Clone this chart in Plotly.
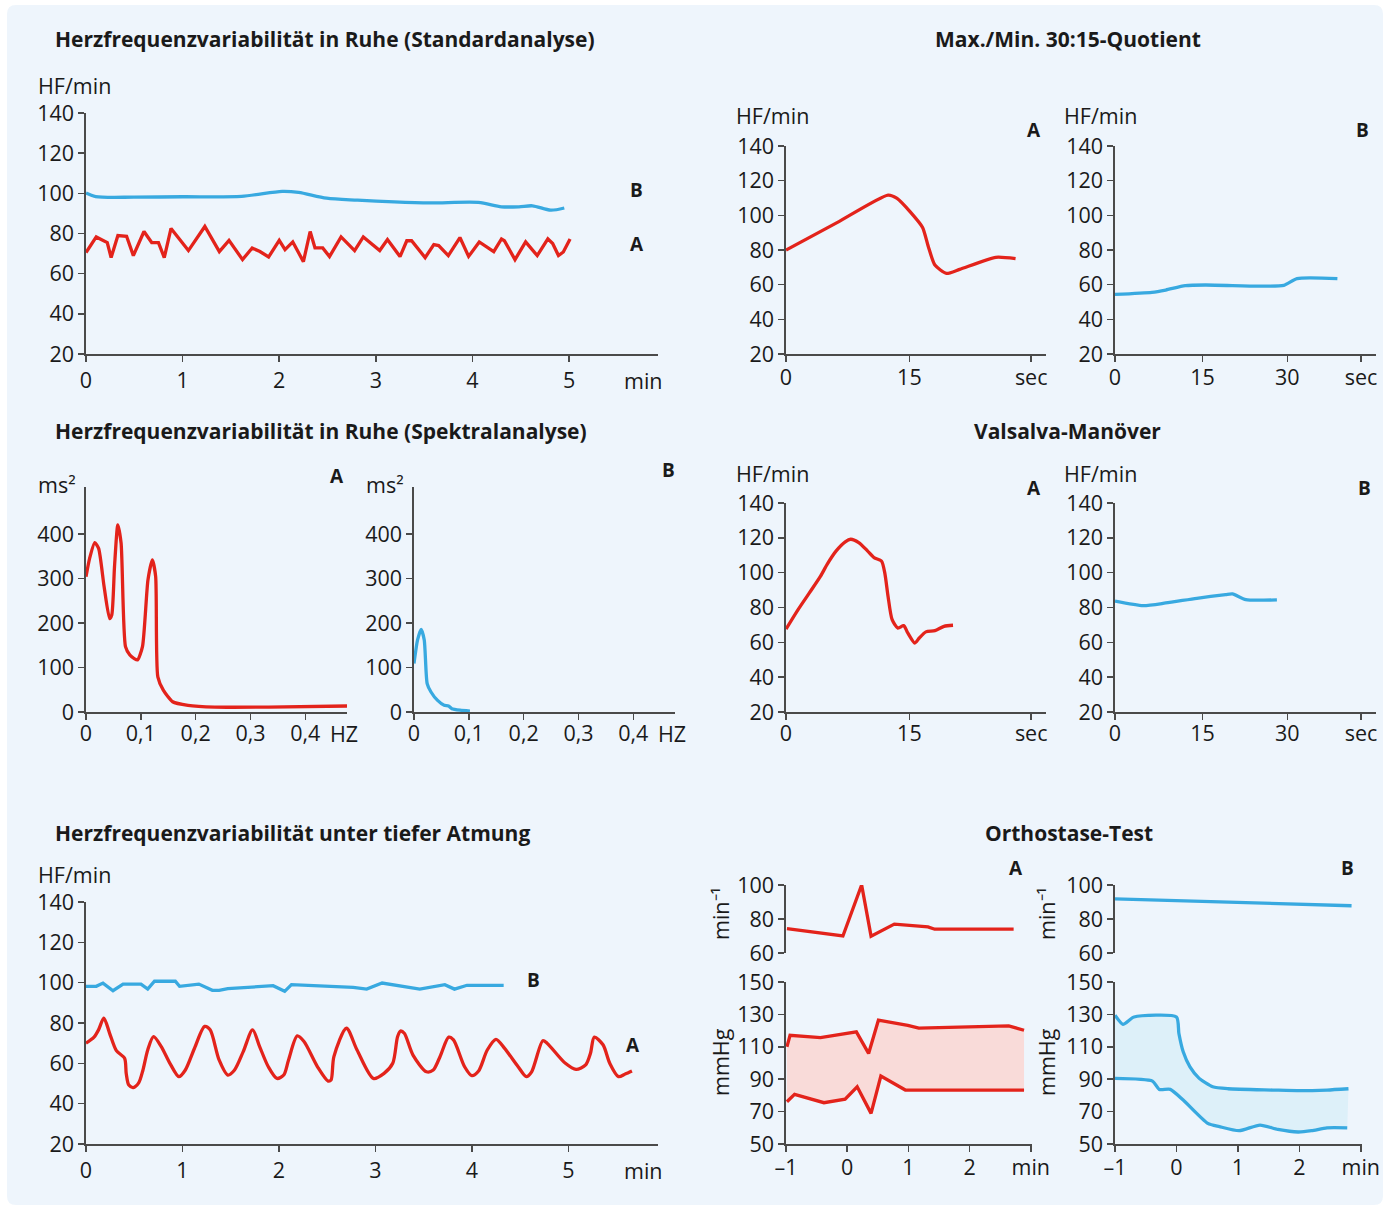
import plotly.graph_objects as go

W, H = 1389, 1207
RED = "#e3231b"
BLUE = "#38a9e0"
PINK = "#f9dbd9"
LBLUE = "#ddf0f9"
AX = "#4a4a4a"
TXT = "#1a1a1a"
BG = "#eef5fc"
FONT = "Open Sans"
TFONT = "Open Sans"

# ---------------- data ----------------
# Herzfrequenzvariabilität in Ruhe (Standardanalyse)
std_t_A = [0, 0.106, 0.22, 0.26, 0.33, 0.42, 0.49, 0.6, 0.68, 0.75, 0.81, 0.88, 1.06, 1.23, 1.38, 1.48,
           1.62, 1.72, 1.8, 1.89, 2.0, 2.06, 2.14, 2.25, 2.32, 2.37, 2.45, 2.52, 2.64, 2.78, 2.87, 3.04,
           3.12, 3.25, 3.32, 3.37, 3.51, 3.6, 3.65, 3.75, 3.87, 3.96, 4.07, 4.22, 4.3, 4.33, 4.44, 4.55,
           4.67, 4.78, 4.83, 4.89, 4.94, 5.01]
std_hf_A = [70.5, 78.3, 75.5, 68, 79, 78.6, 69, 81, 75.5, 75.5, 68, 82.5, 71.5, 83.5, 71, 76.6,
            67, 72.8, 71, 68.3, 76.6, 72, 75.8, 66, 81, 72.8, 72.8, 68.5, 78.3, 71.5, 78.3, 71.5,
            77, 68.5, 76.4, 76.4, 68, 74.5, 74, 69, 78, 68.6, 75.8, 71, 77.3, 76.4, 67, 75.8,
            69, 77.3, 75, 69, 70.8, 77.3]
std_t_B = [0, 0.1, 0.5, 1.0, 1.61, 2.03, 2.2, 2.49, 2.81, 3.19, 3.56, 4.06, 4.3, 4.48, 4.62, 4.81, 4.95]
std_hf_B = [100.2, 98.4, 98.1, 98.3, 98.5, 101, 100.5, 97.6, 96.6, 95.7, 95.2, 95.5, 93.3, 93.3, 93.8, 91.6, 92.7]

# Max./Min. 30:15-Quotient
q_t_A = [0, 6.2, 12.4, 13.5, 15.1, 16.6, 17.3, 18.1, 19.5, 21.1, 25.5, 27.9]
q_hf_A = [80, 95.8, 111.7, 109.8, 102, 93, 81.9, 71.3, 66.5, 68.8, 75.8, 75]
q_t_B = [0, 6.4, 8.8, 12.2, 15.7, 25, 29.3, 31.6, 38.6]
q_hf_B = [54.4, 55.6, 56.9, 59.4, 59.8, 59.2, 59.6, 63.5, 63.5]

# Herzfrequenzvariabilität in Ruhe (Spektralanalyse)
spec_f_A = [0, 0.0065, 0.016, 0.023, 0.033, 0.043, 0.047, 0.052, 0.058, 0.064, 0.072, 0.080, 0.088,
            0.094, 0.103, 0.113, 0.121, 0.127, 0.131, 0.141, 0.158, 0.186, 0.235, 0.333, 0.476]
spec_p_A = [304, 345, 381, 368, 282, 210, 218, 327, 421, 380, 147, 128, 120,
            117, 147, 297, 342, 305, 79, 49, 23, 15, 11, 11, 13.5]
spec_f_B = [0, 0.0065, 0.013, 0.0187, 0.024, 0.031, 0.043, 0.055, 0.063, 0.069, 0.084, 0.102]
spec_p_B = [109, 162, 186, 162, 64, 45, 26, 15, 13.5, 7.5, 4, 2]

# Valsalva-Manöver
val_t_A = [0, 1.47, 2.84, 4.2, 5.0, 6.1, 7.2, 7.86, 8.84, 9.9, 10.7, 11.6, 12.0, 12.4, 12.9, 13.6,
           14.3, 14.8, 15.66, 16.2, 17.0, 18.1, 19.2, 20.3]
val_hf_A = [67.6, 78.8, 88.4, 98, 104.8, 112.5, 117.7, 119.2, 117.3, 112.5, 108.6, 106.7, 100, 86.5, 73, 68.2,
            69.6, 65.4, 59.6, 62.5, 66, 66.7, 69.2, 69.8]
val_t_B = [0, 4.9, 8.8, 14.2, 19.2, 20.4, 22.7, 28.1]
val_hf_B = [83.7, 81.1, 82.6, 85.3, 87.4, 87.8, 84.5, 84.4]

# Herzfrequenzvariabilität unter tiefer Atmung
deep_t_A = [0, 0.083, 0.13, 0.185, 0.245, 0.315, 0.4, 0.417, 0.444, 0.49, 0.546, 0.59, 0.64, 0.7, 0.78,
            0.87, 0.963, 1.03, 1.125, 1.23, 1.287, 1.38, 1.47, 1.54, 1.63, 1.727, 1.8, 1.89, 1.98, 2.05,
            2.1, 2.19, 2.26, 2.4, 2.51, 2.54, 2.57, 2.7, 2.81, 2.98, 3.09, 3.18, 3.23, 3.26, 3.3, 3.39,
            3.53, 3.6, 3.67, 3.76, 3.81, 3.925, 4.0, 4.07, 4.16, 4.25, 4.34, 4.48, 4.565, 4.62, 4.736,
            4.78, 4.97, 5.08, 5.18, 5.23, 5.27, 5.36, 5.43, 5.52, 5.59, 5.66]
deep_hf_A = [70, 73, 76.6, 82.4, 74.9, 66.3, 62.5, 55, 49.2, 48, 50.3, 56.6, 66.6, 73.2, 68.3,
             60, 53.4, 56.7, 67.5, 78.3, 76.6, 61.7, 54.2, 56.7, 65.8, 76.6, 68.3, 58.3, 52.5, 54.2,
             61.7, 73.6, 70.8, 58.3, 51.2, 51.7, 63.3, 77.4, 66.6, 52.5, 55, 60, 73.2, 76, 74.9, 64.1,
             55.8, 56.7, 63.3, 73, 71.6, 58.3, 53.9, 56.2, 66.6, 71.9, 67.4, 58.3, 53.4, 55.8, 71.2,
             70, 60, 57, 59.2, 65, 73, 69.2, 60, 53.4, 54.7, 56.2]
deep_t_B = [0, 0.106, 0.176, 0.28, 0.384, 0.57, 0.64, 0.71, 0.926, 0.97, 1.17, 1.31, 1.38, 1.47, 1.94,
            2.06, 2.13, 2.77, 2.91, 3.07, 3.46, 3.72, 3.82, 3.95, 4.33]
deep_hf_B = [98.2, 98.2, 99.8, 96, 99.3, 99.3, 96.8, 100.7, 100.7, 98.2, 99.3, 96.2, 96.2, 97, 98.5,
             95.7, 99, 97.7, 96.8, 99.8, 96.8, 99, 96.8, 98.7, 98.7]

# Orthostase-Test
orth_t_hr_A = [-0.985, -0.07, 0.236, 0.39, 0.77, 1.03, 1.32, 1.43, 2.72]
orth_hr_A = [74.4, 70, 100, 69.9, 77, 76.4, 75.4, 74, 74]
orth_t_sys_A = [-0.985, -0.934, -0.437, 0.15, 0.35, 0.51, 0.99, 1.17, 2.64, 2.89]
orth_sys_A = [110, 117.1, 115.7, 119.2, 105.9, 126.4, 123.2, 121.5, 122.9, 120.2]
orth_t_dia_A = [-0.985, -0.86, -0.38, -0.034, 0.163, 0.39, 0.55, 0.95, 2.89]
orth_dia_A = [76.1, 80.6, 75.5, 77.7, 85.3, 68.9, 91.9, 83.3, 83.3]
orth_t_hr_B = [-1, 0, 2.85]
orth_hr_B = [91.8, 90.8, 87.8]
orth_t_sys_B = [-1, -0.87, -0.69, 0, 0.04, 0.11, 0.22, 0.37, 0.59, 0.84, 1.57, 2.01, 2.45, 2.8]
orth_sys_B = [129.5, 123.9, 128.4, 128.4, 118.2, 106.9, 97.6, 90.5, 85.3, 84.1, 83.3, 82.9, 83.3, 84.1]
orth_t_dia_B = [-1, -0.39, -0.28, -0.1, 0.11, 0.51, 0.7, 1.02, 1.36, 1.65, 1.98, 2.2, 2.45, 2.78]
orth_dia_B = [90.5, 88.8, 83.7, 83.7, 77.1, 62.7, 60.7, 58.2, 61.7, 59, 57.4, 58.2, 60, 60]

hf_ticks = [20, 40, 60, 80, 100, 120, 140]
min_ticks = [0, 1, 2, 3, 4, 5]
hz_ticks = [0, 0.1, 0.2, 0.3, 0.4]
hz_labels = ["0", "0,1", "0,2", "0,3", "0,4"]
ms_ticks = [0, 100, 200, 300, 400]
orth_x_ticks = [-1, 0, 1, 2, 3]
orth_x_labels = ["–1", "0", "1", "2", "min"]

# ---------------- figure ----------------
fig = go.Figure()
layout = {}
TS = 21.5


def dx(l, r):
    return [l / W, r / W]


def dy(t, b):
    return [1 - b / H, 1 - t / H]


def add_axes(i, rect, xr, yr, xtv, xtt, ytv, ytt=None, xline=True, xso=0):
    l, t, r, b = rect
    sfx = "" if i == 1 else str(i)
    common = dict(showline=True, linecolor=AX, linewidth=1.6, ticks="outside", ticklen=6,
                  tickwidth=1.5, tickcolor=AX, showgrid=False, zeroline=False,
                  tickfont=dict(family=FONT, size=TS, color=TXT), fixedrange=True)
    xa = dict(common, domain=dx(l, r), range=xr, anchor="y" + sfx, tickmode="array",
              tickvals=xtv, ticktext=xtt, ticklabelstandoff=xso)
    if not xline:
        xa.update(showline=False, ticks="", showticklabels=False, tickvals=[], ticktext=[])
    ya = dict(common, domain=dy(t, b), range=yr, anchor="x" + sfx, tickmode="array",
              tickvals=ytv, ticktext=ytt if ytt else [str(v) for v in ytv], ticklabelstandoff=0)
    layout["xaxis" + sfx] = xa
    layout["yaxis" + sfx] = ya
    return "x" + sfx, "y" + sfx


def line(x, y, axes, color, shape="linear", smooth=1.0, width=3.3):
    kw = dict(shape=shape, color=color, width=width)
    if shape == "spline":
        kw["smoothing"] = smooth
    fig.add_trace(go.Scatter(x=x, y=y, mode="lines", line=kw, xaxis=axes[0], yaxis=axes[1],
                             hoverinfo="skip", showlegend=False, cliponaxis=True))


def band(xu, yu, xl, yl, axes, color):
    fig.add_trace(go.Scatter(x=list(xu) + list(xl)[::-1], y=list(yu) + list(yl)[::-1], mode="lines",
                             fill="toself", fillcolor=color, line=dict(width=0), xaxis=axes[0],
                             yaxis=axes[1], hoverinfo="skip", showlegend=False))


# Panel 1
a1 = add_axes(1, (86, 113, 658, 354), [0, 5.92], [20, 140], min_ticks, [str(v) for v in min_ticks], hf_ticks,
              xso=1)
line(std_t_B, std_hf_B, a1, BLUE, "spline", 0.8)
line(std_t_A, std_hf_A, a1, RED)

# Panel 2 A/B
q_xt_A = [0, 15, 29.8]
a2 = add_axes(2, (786, 146, 1046, 354), [0, 31.6], [20, 140], q_xt_A, ["0", "15", "sec"], hf_ticks, xso=-2)
line(q_t_A, q_hf_A, a2, RED, "spline", 0.6)
q_xt_B = [0, 15.2, 29.9, 42.7]
a3 = add_axes(3, (1115, 146, 1376, 354), [0, 45.3], [20, 140], q_xt_B, ["0", "15", "30", "sec"], hf_ticks,
              xso=-2)
line(q_t_B, q_hf_B, a3, BLUE, "spline", 0.6)

# Panel 3 A/B
a4 = add_axes(4, (86, 487, 347, 712), [0, 0.476], [0, 506], hz_ticks, hz_labels, ms_ticks, xso=-4)
line(spec_f_A, spec_p_A, a4, RED, "spline", 0.6)
a5 = add_axes(5, (414, 487, 675, 712), [0, 0.476], [0, 506], hz_ticks, hz_labels, ms_ticks, xso=-4)
line(spec_f_B, spec_p_B, a5, BLUE, "spline", 0.6)

# Panel 4 A/B
a6 = add_axes(6, (786, 503, 1046, 712), [0, 31.6], [20, 140], q_xt_A, ["0", "15", "sec"], hf_ticks, xso=-4)
line(val_t_A, val_hf_A, a6, RED, "spline", 0.7)
a7 = add_axes(7, (1115, 503, 1376, 712), [0, 45.3], [20, 140], q_xt_B, ["0", "15", "30", "sec"], hf_ticks,
              xso=-4)
line(val_t_B, val_hf_B, a7, BLUE, "spline", 0.6)

# Panel 5
a8 = add_axes(8, (86, 902, 658, 1144), [0, 5.93], [20, 140], min_ticks, [str(v) for v in min_ticks], hf_ticks,
              xso=1)
line(deep_t_B, deep_hf_B, a8, BLUE)
line(deep_t_A, deep_hf_A, a8, RED, "spline", 0.8)

# Panel 6
a9 = add_axes(9, (786, 885, 1032, 953), [-1, 3.02], [60, 100], orth_x_ticks, orth_x_labels, [60, 80, 100],
              xline=False)
line(orth_t_hr_A, orth_hr_A, a9, RED)
a10 = add_axes(10, (786, 982, 1032, 1144), [-1, 3.02], [50, 150], orth_x_ticks, orth_x_labels,
               [50, 70, 90, 110, 130, 150], xso=-2)
band(orth_t_sys_A, orth_sys_A, orth_t_dia_A, orth_dia_A, a10, PINK)
line(orth_t_sys_A, orth_sys_A, a10, RED)
line(orth_t_dia_A, orth_dia_A, a10, RED)
a11 = add_axes(11, (1115, 885, 1362, 953), [-1, 3.02], [60, 100], orth_x_ticks, orth_x_labels, [60, 80, 100],
               xline=False)
line(orth_t_hr_B, orth_hr_B, a11, BLUE)
a12 = add_axes(12, (1115, 982, 1362, 1144), [-1, 3.02], [50, 150], orth_x_ticks, orth_x_labels,
               [50, 70, 90, 110, 130, 150], xso=-2)
band(orth_t_sys_B, orth_sys_B, orth_t_dia_B, orth_dia_B, a12, LBLUE)
line(orth_t_sys_B, orth_sys_B, a12, BLUE, "spline", 0.6)
line(orth_t_dia_B, orth_dia_B, a12, BLUE, "spline", 0.6)

# ---------------- annotations ----------------
anns = []


def ann(text, x, y, xanchor="left", size=TS, bold=False, angle=0, family=None):
    anns.append(dict(text=("<b>%s</b>" % text) if bold else text, x=x / W, y=1 - y / H,
                     xref="paper", yref="paper", xanchor=xanchor, yanchor="middle", showarrow=False,
                     textangle=angle, borderpad=0,
                     font=dict(family=family or (TFONT if bold else FONT), size=size, color=TXT)))


TT = 21
ann("Herzfrequenzvariabilität in Ruhe (Standardanalyse)", 54, 39, size=TT, bold=True)
ann("Max./Min. 30:15-Quotient", 1068, 39, "center", size=TT, bold=True)
ann("Herzfrequenzvariabilität in Ruhe (Spektralanalyse)", 54, 431, size=TT, bold=True)
ann("Valsalva-Manöver", 1067, 431, "center", size=TT, bold=True)
ann("Herzfrequenzvariabilität unter tiefer Atmung", 54, 833, size=TT, bold=True)
ann("Orthostase-Test", 1069, 833, "center", size=TT, bold=True)

ann("HF/min", 37, 85)
ann("B", 636, 190, "center", 19, True)
ann("A", 637, 244, "center", 19, True)
ann("min", 643, 380, "center")

ann("HF/min", 735, 115)
ann("A", 1034, 130, "center", 19, True)
ann("HF/min", 1063, 115)
ann("B", 1362, 130, "center", 19, True)

ann("ms²", 37, 484)
ann("A", 337, 476, "center", 19, True)
ann("HZ", 344, 734, "center")
ann("ms²", 365, 484)
ann("B", 668, 470, "center", 19, True)
ann("HZ", 672, 734, "center")

ann("HF/min", 735, 473)
ann("A", 1034, 488, "center", 19, True)
ann("HF/min", 1063, 473)
ann("B", 1364, 488, "center", 19, True)

ann("HF/min", 37, 874)
ann("B", 533, 980, "center", 19, True)
ann("A", 633, 1045, "center", 19, True)
ann("min", 643, 1170, "center")

ann("A", 1016, 868, "center", 19, True)
ann("B", 1347, 868, "center", 19, True)
ann("min⁻¹", 720, 914, "center", angle=-90)
ann("mmHg", 720, 1062, "center", angle=-90)
ann("min⁻¹", 1046, 914, "center", angle=-90)
ann("mmHg", 1046, 1062, "center", angle=-90)

# rounded light-blue background
x0, y0, x1, y1, rr = 7, 5, 1383, 1205, 9


def P(x, y):
    return "%.6f,%.6f" % (x / W, 1 - y / H)


path = ("M " + P(x0 + rr, y0) + " L " + P(x1 - rr, y0) + " Q " + P(x1, y0) + " " + P(x1, y0 + rr) +
        " L " + P(x1, y1 - rr) + " Q " + P(x1, y1) + " " + P(x1 - rr, y1) +
        " L " + P(x0 + rr, y1) + " Q " + P(x0, y1) + " " + P(x0, y1 - rr) +
        " L " + P(x0, y0 + rr) + " Q " + P(x0, y0) + " " + P(x0 + rr, y0) + " Z")
shapes = [dict(type="path", path=path, xref="paper", yref="paper", fillcolor=BG, line=dict(width=0),
               layer="below")]

fig.update_layout(width=W, height=H, margin=dict(l=0, r=0, t=0, b=0, pad=0, autoexpand=False),
                  paper_bgcolor="white", plot_bgcolor="white", showlegend=False,
                  annotations=anns, shapes=shapes, **layout)
fig.write_html("out.html", config={"displayModeBar": False, "staticPlot": True},
               post_script="document.body.style.margin='0';document.body.style.padding='0';")
